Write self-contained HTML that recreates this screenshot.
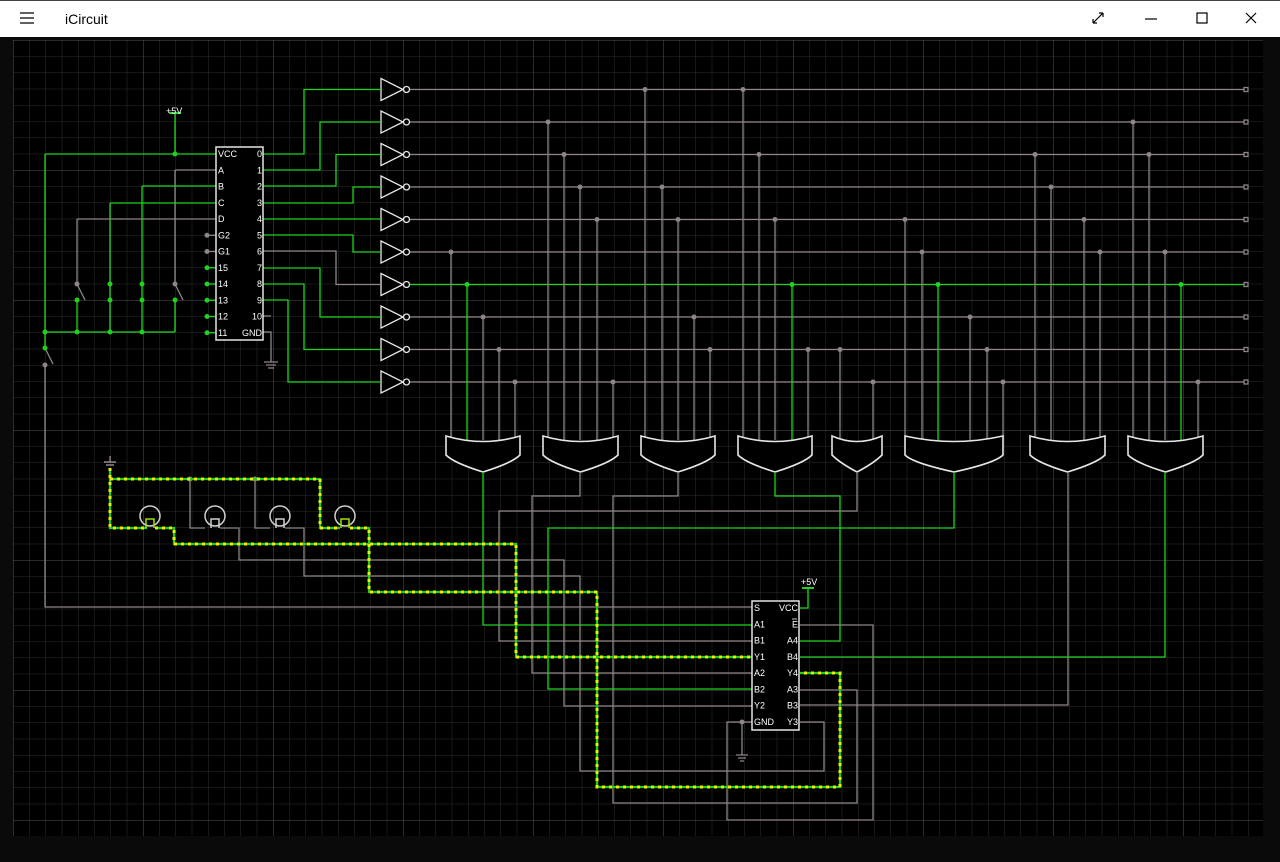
<!DOCTYPE html>
<html><head><meta charset="utf-8"><style>
html,body{margin:0;padding:0;background:#000;width:1280px;height:862px;overflow:hidden}
#tb{position:absolute;left:0;top:0;width:1280px;height:37px;background:#fff;border-top:1px solid #444;box-sizing:border-box}
#tb .t{position:absolute;left:65px;top:10px;font:14px "Liberation Sans",sans-serif;color:#000}
svg{position:absolute;left:0;top:0}
text{font-family:"Liberation Sans",sans-serif;fill:#fff;font-size:9px}
</style></head><body>
<div id="tb"><span class="t">iCircuit</span></div>
<svg id="s" width="1280" height="862" xmlns="http://www.w3.org/2000/svg">
<defs>
<pattern id="mn" x="13" y="40" width="16.25" height="16.25" patternUnits="userSpaceOnUse"><path d="M0 0H16.25M0 0V16.25" stroke="#2e2e2e" stroke-width="1" fill="none"/></pattern>
<pattern id="mj" x="13" y="40" width="130" height="130" patternUnits="userSpaceOnUse"><path d="M0 0H130M0 0V130" stroke="#555" stroke-width="1" fill="none"/></pattern>
</defs>
<rect x="0" y="37" width="1280" height="825" fill="#0a0a0a"/>
<rect x="13" y="40" width="1250" height="796" fill="#000"/>
<rect x="13" y="40" width="1250" height="796" fill="url(#mn)"/>
<rect x="13" y="40" width="1250" height="796" fill="url(#mj)"/>
<g id="g" fill="none" stroke-width="1.3"></g>
<g stroke="#000" stroke-width="1.2" fill="none">
<path d="M20 13H34M20 18H34M20 23H34"/>
<path d="M1093 23L1103 13M1093 23V19M1093 23H1097M1103 13H1099M1103 13V17"/>
<path d="M1145 19H1157"/>
<rect x="1197" y="13" width="10" height="10"/>
<path d="M1246 13L1256 23M1256 13L1246 23"/>
</g>
</svg>
<script>
var G=document.getElementById('g'),S=document.getElementById('s');
var GR='#8f8585',GN='#1ed31e',WH='#e6e6e6';
var h='';
function L(d,c,w){h+='<path d="'+d+'" stroke="'+c+'" stroke-width="'+(w||1.3)+'" fill="none"/>';}
function Y(d){L(d,GN,2.2);h+='<path d="'+d+'" stroke="#e8f000" stroke-width="3" stroke-dasharray="3 4" fill="none"/>';}
function D(x,y,c){h+='<circle cx="'+x+'" cy="'+y+'" r="2.5" fill="'+c+'"/>';}
function T(x,y,s,a){h+='<text x="'+x+'" y="'+(y+3)+'"'+(a?' text-anchor="end"':'')+'>'+s+'</text>';}
var R=[];for(var i=0;i<10;i++)R.push(89.5+32.5*i);
for(i=0;i<10;i++){var c=i==6?GN:GR;L('M410 '+R[i]+'H1245',c);h+='<rect x="1244" y="'+(R[i]-2)+'" width="4" height="4" stroke="'+GR+'" fill="#000"/>';}
for(i=0;i<10;i++){var y=R[i];h+='<path d="M381 '+(y-11)+'L403 '+y+'L381 '+(y+11)+'Z" stroke="'+WH+'" stroke-width="1.3" fill="#000"/><circle cx="406.5" cy="'+y+'" r="3" stroke="'+WH+'" fill="#000"/>';}
var py=[154,170,186,203,219,235,251,268,284,300];
var bx=[304,320,336,353,null,353,336,320,304,288];
for(i=0;i<10;i++){var c=i==6?GR:GN;if(bx[i]==null)L('M263 219H381',c);else L('M263 '+py[i]+'H'+bx[i]+'V'+R[i]+'H381',c);}
L('M263 316H271',GR);L('M263 332H271V362',GR);L('M264 362H278M266 365H276M268 368H274',GR);
var gates=[[446,520,[[451,5],[467,6],[483,7],[499,8],[515,9]]],[543,618,[[548,1],[564,2],[580,3],[597,4],[613,9]]],[641,715,[[645,0],[662,3],[678,4],[694,7],[710,8]]],[738,812,[[743,0],[759,2],[775,4],[792,6],[808,8]]],[832,882,[[840,8],[873,9]]],[905,1003,[[905,4],[922,5],[938,6],[970,7],[987,8],[1003,9]]],[1030,1105,[[1035,2],[1051,3],[1084,4],[1100,5]]],[1128,1203,[[1133,1],[1149,2],[1165,5],[1181,6],[1198,9]]]];
gates.forEach(function(g){g[2].forEach(function(t){var c=t[1]==6?GN:GR;L('M'+t[0]+' '+R[t[1]]+'V440',c);D(t[0],R[t[1]],c);});
var a=g[0],b=g[1],cx=(a+b)/2;h+='<path d="M'+a+' 436Q'+cx+' 447 '+b+' 436L'+b+' 455Q'+(b-8)+' 463 '+cx+' 472Q'+(a+8)+' 463 '+a+' 455Z" stroke="'+WH+'" stroke-width="1.6" fill="#000"/>';});
L('M483 472V625H752',GN);
L('M580 472V496H532V673H752',GR);
L('M678 472V496H613V803H857V690H800',GR);
L('M775 472V496H840V641H800',GN);
L('M857 472V511H499V641H752',GR);
L('M954 472V528H548V689H752',GN);
L('M1068 472V705H800',GR);
L('M1165 472V657H800',GN);
L('M800 625H873V820H727V722H752',GR);L('M742 722V755',GR);L('M736 755H748M738 758H746M740 761H744',GR);D(742,722,GR);
L('M800 608H808V588',GN);L('M802 588H814',GN,2);T(801,582,'+5V');
L('M190 479V528H205M220 528H239V560H564V706H752',GR);
L('M255 479V528H270M285 528H304V576H580V771H824V722H800',GR);
D(190,479,GR);D(255,479,GR);
L('M45 365V607H752',GR);
Y('M110 468V528H147');Y('M110 479H320V528H340');
Y('M155 528H174V544H516V657H752');
Y('M350 528H369V592H597V787H840V673H800');
h+='<path d="M104 462H116M106 465H114" stroke="'+GR+'" stroke-width="1.5"/>';L('M110 456V462',GR);
[150,215,280,345].forEach(function(x,k){h+='<circle cx="'+x+'" cy="516" r="10" stroke="#cfcfcf" stroke-width="1.5" fill="none"/>';var c=(k==0||k==3)?'#9fe000':'#cfcfcf';h+='<path d="M'+(x-4)+' 528V519H'+(x+4)+'V528" stroke="'+c+'" stroke-width="1.5" fill="none"/>';});
L('M45 154H216',GN);L('M175 113V154',GN);L('M169 113H181',GN,2);T(166,111,'+5V');D(175,154,GN);
L('M45 154V332H175',GN);
L('M175 170H216',GR);L('M175 170V284',GR);L('M175 284L183 300',GR);L('M175 300V332',GN);
L('M142 186H216',GN);L('M142 186V332',GN);
L('M110 203H216',GN);L('M110 203V332',GN);
L('M77 219H216',GR);L('M77 219V284',GR);L('M77 284L85 300',GR);L('M77 300V332',GN);
L('M45 332V348',GN);L('M45 348L53 364',GR);
[[45,332],[77,332],[110,332],[142,332],[110,284],[142,284],[110,300],[142,300],[77,300],[175,300],[45,348]].forEach(function(p){D(p[0],p[1],GN);});
D(77,284,GR);D(175,284,GR);D(45,365,GR);
var lp=['VCC','A','B','C','D','G2','G1','15','14','13','12','11'],rp=['0','1','2','3','4','5','6','7','8','9','10','GND'];
for(i=0;i<12;i++){var y=154+16.25*i;if(i>=5){var c=i<7?GR:GN;L('M207 '+y+'H216',c);D(207,y,c);}}
h+='<rect x="216" y="147" width="47" height="193" stroke="'+WH+'" stroke-width="1.5" fill="#000"/>';
for(i=0;i<12;i++){var y=154+16.25*i;T(218,y,lp[i]);T(262,y,rp[i],1);}
h+='<rect x="752" y="601" width="47" height="129" stroke="'+WH+'" stroke-width="1.5" fill="#000"/>';
var l2=['S','A1','B1','Y1','A2','B2','Y2','GND'],r2=['VCC','E','A4','B4','Y4','A3','B3','Y3'];
for(i=0;i<8;i++){var y=608+16.25*i;T(754,y,l2[i]);T(798,y,r2[i],1);}
L('M792 619H797','#fff',0.8);
G.innerHTML=h;
</script>
</body></html>
